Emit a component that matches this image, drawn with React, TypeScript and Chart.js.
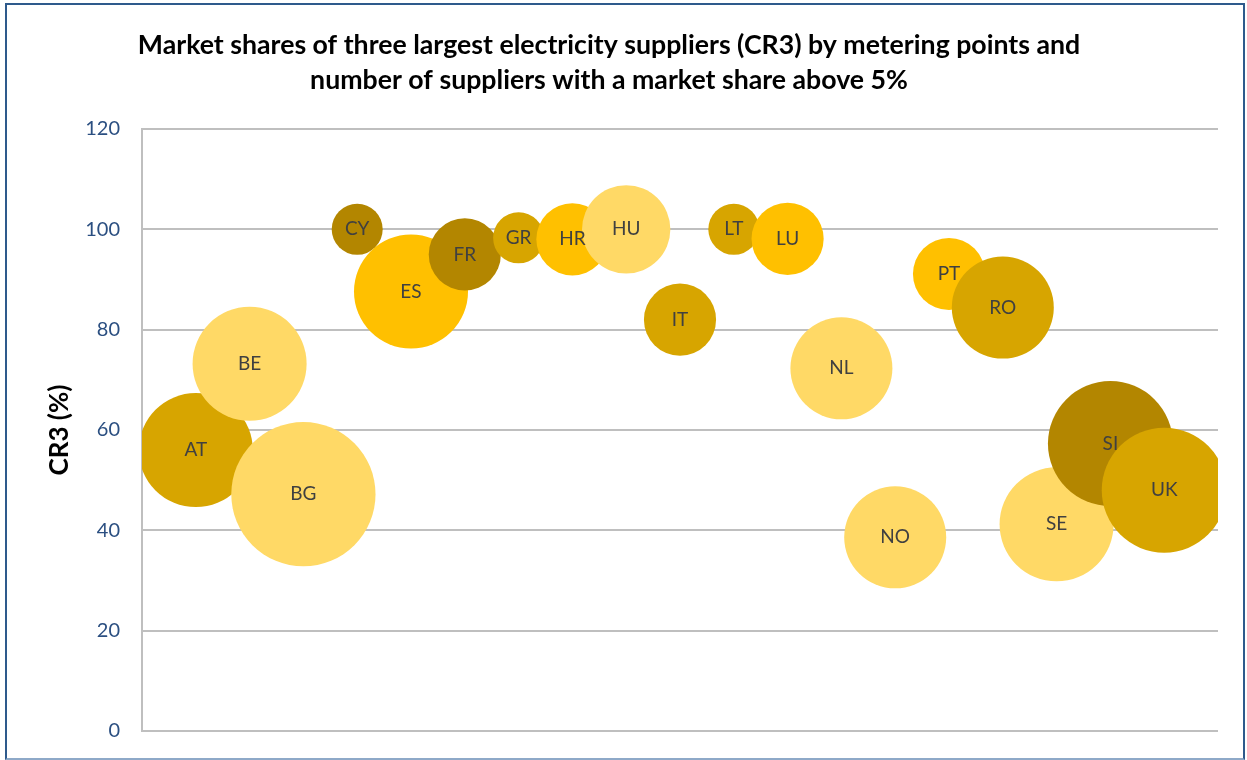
import React, { useEffect, useRef } from "react";
import { Chart, registerables } from "chart.js";

Chart.register(...registerables);

const countries = ["AT", "BE", "BG", "CY", "ES", "FR", "GR", "HR", "HU", "IT", "LT", "LU", "NL", "NO", "PT", "RO", "SE", "SI", "UK"];
const cr3 = [56, 73.2, 47.2, 100, 87.6, 95, 98.3, 98, 100, 82, 100, 98.1, 72.3, 38.6, 91.1, 84.4, 41.2, 57.3, 48];
const suppliers = [5, 5, 8, 1, 5, 2, 1, 2, 3, 2, 1, 2, 4, 4, 2, 4, 5, 6, 6];
const yTicks = [0, 20, 40, 60, 80, 100, 120];

const DARK = "#B38600";
const MID = "#D7A500";
const BRIGHT = "#FFC000";
const LIGHT = "#FFD966";
const colors = [MID, LIGHT, LIGHT, DARK, BRIGHT, DARK, MID, BRIGHT, LIGHT, MID, MID, BRIGHT, LIGHT, LIGHT, BRIGHT, MID, LIGHT, DARK, MID];

const titleLines = [
  "Market shares of three largest electricity suppliers (CR3) by metering points and",
  "number of suppliers with a market share above 5%",
];

const FONT = "Lato, 'Open Sans', sans-serif";

export default function App() {
  const ref = useRef<HTMLCanvasElement>(null);
  useEffect(() => {
    document.body.style.margin = "0";
    const labelPlugin = {
      id: "bubbleLabels",
      afterDatasetsDraw(chart: any) {
        const ctx = chart.ctx;
        const meta = chart.getDatasetMeta(0);
        ctx.save();
        ctx.font = `19px ${FONT}`;
        ctx.fillStyle = "#404040";
        ctx.textAlign = "center";
        ctx.textBaseline = "middle";
        meta.data.forEach((el: any, i: number) => {
          ctx.fillText(countries[i], el.x, el.y);
        });
        ctx.restore();
      },
    };
    const chart = new Chart(ref.current!, {
      type: "bubble",
      data: {
        datasets: [
          {
            data: countries.map((c, i) => ({ x: i + 1, y: cr3[i], r: 25.5 * Math.sqrt(suppliers[i]) })),
            backgroundColor: colors,
            borderWidth: 0,
            clip: 0,
          } as any,
        ],
      },
      options: {
        animation: false,
        responsive: false,
        events: [],
        layout: { autoPadding: false, padding: { left: 0, right: 29, top: 0, bottom: 29 } },
        plugins: {
          legend: { display: false },
          tooltip: { enabled: false },
          title: {
            display: true,
            text: titleLines,
            color: "#000000",
            font: { family: FONT, size: 26.7, weight: "bold", lineHeight: 1.311 },
            padding: { top: 27.5, bottom: 31.5 },
          },
        },
        scales: {
          x: {
            type: "linear",
            min: 0,
            max: 20,
            display: false,
          },
          y: {
            type: "linear",
            min: 0,
            max: 120,
            afterFit: (s: any) => {
              s.width = 142;
              s.paddingTop = 0;
              s.paddingBottom = 0;
            },
            afterBuildTicks: (s: any) => {
              s.ticks = yTicks.map((v) => ({ value: v }));
            },
            grid: { color: "#BFBFBF", lineWidth: 2, drawTicks: false },
            border: { display: true, color: "#BFBFBF", width: 2 },
            ticks: {
              color: "#2B4F81",
              font: { family: FONT, size: 20 },
              padding: 22,
            },
            title: {
              display: true,
              text: "CR3 (%)",
              color: "#000000",
              font: { family: FONT, size: 26, weight: "bold", lineHeight: 1.2 },
              padding: { top: 44.4, bottom: 0 },
            },
          },
        },
      },
      plugins: [labelPlugin],
    });
    return () => chart.destroy();
  }, []);
  return (
    <div style={{ position: "relative", width: 1247, height: 760, background: "#fff" }}>
      <canvas ref={ref} width={1247} height={760} style={{ position: "absolute", left: 0, top: 0 }} />
      <div
        style={{
          position: "absolute",
          left: 5,
          top: 3,
          width: 1240,
          height: 757,
          boxSizing: "border-box",
          borderTop: "2px solid #2E5A8C",
          borderLeft: "2px solid #2E5A8C",
          borderRight: "2px solid #2E5A8C",
          borderBottom: "2px solid #8EA9C8",
          pointerEvents: "none",
        }}
      />
    </div>
  );
}
